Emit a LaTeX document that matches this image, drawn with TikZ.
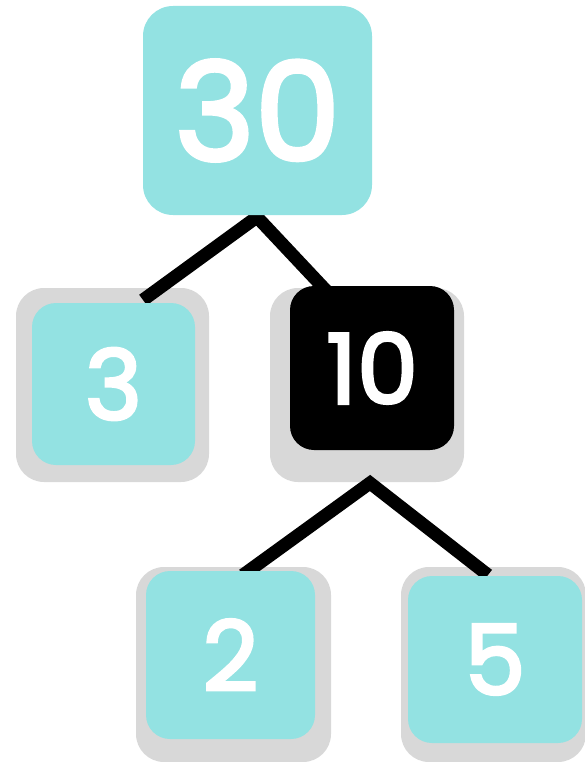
\documentclass[tikz,border=0pt]{standalone}
\usepackage{fontspec}
\setmainfont{Poppins}
\newfontfamily\numfont{Poppins}[FakeBold=3]
\definecolor{tealbox}{RGB}{147,226,226}
\definecolor{shadowgray}{RGB}{216,216,216}
\begin{document}
\begin{tikzpicture}[x=1pt,y=-1pt,
  numbox/.style={rectangle, rounded corners=24pt, inner sep=0pt, fill=tealbox, text=white, font=\numfont\fontsize{97}{97}\selectfont},
  darkbox/.style={numbox, fill=black},
  shadowbox/.style={rectangle, rounded corners=28pt, inner sep=0pt, fill=shadowgray},
  link/.style={draw=black, line width=13pt}]
\useasboundingbox (0,0) rectangle (584,762);
% shadows
\node[shadowbox, minimum width=193pt, minimum height=194pt] (s3) at (112.5,385) {};
\node[shadowbox, minimum width=194pt, minimum height=194pt] (s10) at (367,385) {};
\node[shadowbox, minimum width=195pt, minimum height=195pt] (s2) at (233.5,664.5) {};
\node[shadowbox, minimum width=185pt, minimum height=195pt] (s5) at (493.5,664.5) {};
% connector end points
\coordinate (a1) at (257,217);
\coordinate (e3) at (143,300);
\coordinate (e10) at (335,300);
\coordinate (a2) at (370,483);
\coordinate (e2) at (243,575);
\coordinate (e5) at (488,575);
\draw[link] (e3) -- (a1) -- (e10);
\draw[link] (e2) -- (a2) -- (e5);
% boxes
\node[numbox, rounded corners=30pt, minimum width=229pt, minimum height=209pt, font=\numfont\fontsize{136}{136}\selectfont] (n30) at (257.5,110.5) {30};
\node[numbox, minimum width=163pt, minimum height=162pt] (n3) at (113.5,384) {3};
\node[darkbox, minimum width=164pt, minimum height=164pt] (n10) at (372,368) {10};
\node[numbox, minimum width=169pt, minimum height=168pt] (n2) at (230.5,655) {2};
\node[numbox, minimum width=174pt, minimum height=167pt] (n5) at (495,659.5) {5};
\end{tikzpicture}
\end{document}
